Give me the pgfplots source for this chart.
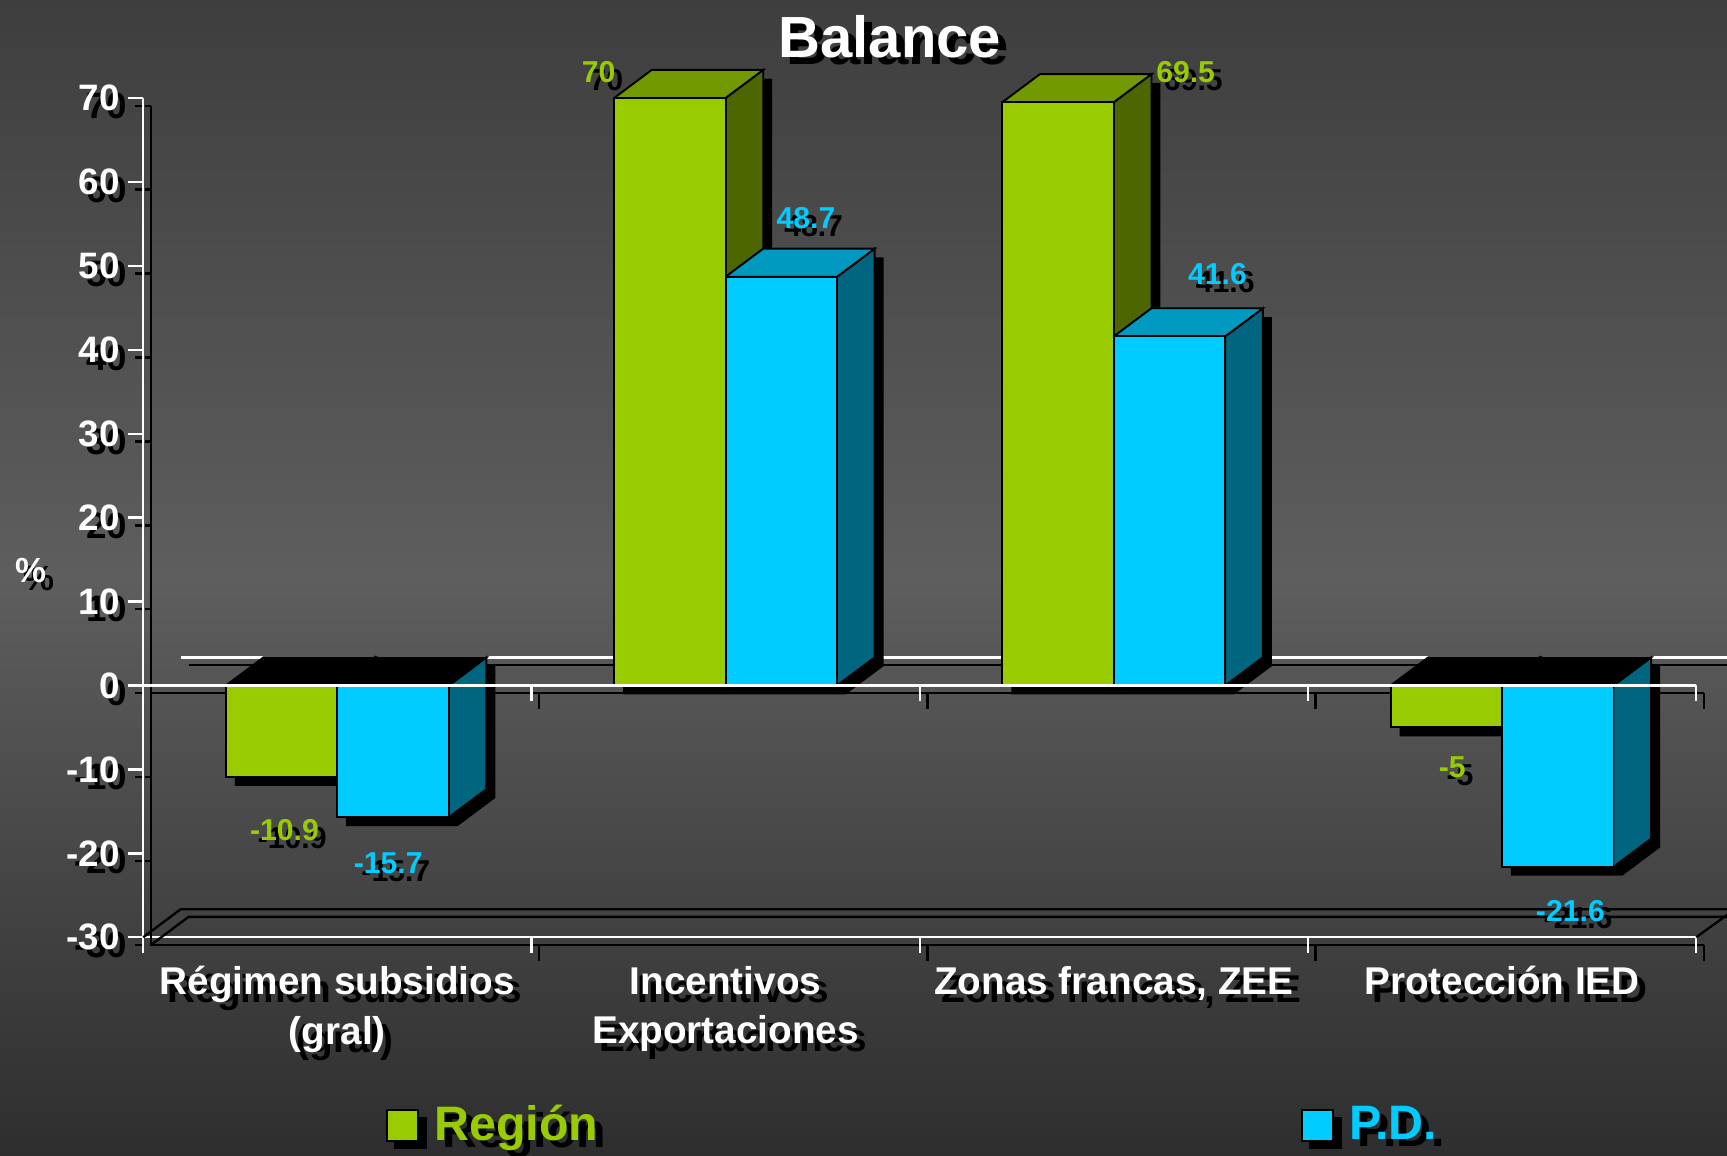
\documentclass[border=0pt]{standalone}
\usepackage{pgfplots}
\pgfplotsset{compat=1.18}
\usepackage{fontspec}
\setmainfont{Liberation Sans}
\definecolor{rgreen}{HTML}{99CC00}
\definecolor{rtop}{HTML}{739900}
\definecolor{rside}{HTML}{4D6600}
\definecolor{pcyan}{HTML}{00CCFF}
\definecolor{ptop}{HTML}{0099C0}
\definecolor{pside}{HTML}{006680}
\definecolor{bgtop}{HTML}{3E3E3E}
\definecolor{bgmid}{HTML}{5E5E5E}
\definecolor{bgbot}{HTML}{2E2E2E}
\newcommand{\sh}[2][white]{\rlap{\kern0.07cm\raisebox{-0.07cm}[0pt][0pt]{\color{black}#2}}{\color{#1}#2}}
\begin{document}
\begin{tikzpicture}
\useasboundingbox (0,0) rectangle (15.68,10.49);
\shade[top color=bgtop, bottom color=bgbot, middle color=bgmid] (0,0) rectangle (15.68,10.49);
\begin{axis}[
  at={(1.30cm,1.98cm)}, anchor=south west,
  scale only axis, width=14.10cm, height=7.62cm,
  xmin=-0.5, xmax=3.5, ymin=-30, ymax=70,
  clip=false,
  axis x line*=bottom, axis y line*=left,
  axis line style={-, white, line width=0.6pt},
  tick style={white, line width=0.6pt},
  tick align=outside, major tick length=0.14cm,
  xtick={-0.5,0.5,1.5,2.5,3.5}, xticklabels={},
  extra x ticks={0,1,2,3},
  extra x tick labels={{\sh{Régimen subsidios}\\\sh{(gral)}},{\sh{Incentivos}\\\sh{Exportaciones}},{\sh{Zonas francas, ZEE}},{\sh{Protección IED}}},
  extra x tick style={major tick length=0pt},
  xticklabel style={align=center, font=\fontsize{10}{12.8}\selectfont\bfseries, yshift=-0.14cm},
  ytick={-30,-20,...,70},
  yticklabel={\sh{\pgfmathprintnumber{\tick}}},
  yticklabel style={font=\fontsize{9.5}{11}\selectfont\bfseries, xshift=0.05cm},
  /pgf/number format/assume math mode=true,
  legend columns=2,
  legend style={at={(0.156,-0.224)}, anchor=west, draw=none, fill=none, inner sep=0pt,
    font=\fontsize{12.5}{15}\selectfont\bfseries,
    /tikz/every even column/.append style={column sep=6.31cm}},
  legend cell align=left,
]
% shadows of the axis lines and ticks
\draw[black, line width=0.6pt] ([xshift=0.07cm,yshift=-0.07cm]axis cs:-0.5,70) -- ([xshift=0.07cm,yshift=-0.07cm]axis cs:-0.5,-30) -- ([xshift=0.07cm,yshift=-0.07cm]axis cs:3.5,-30);
\draw[black, line width=0.6pt]
  ([xshift=-0.07cm,yshift=-0.07cm]axis cs:-0.5,70) -- ([xshift=-0.012cm,yshift=-0.07cm]axis cs:-0.5,70)
  ([xshift=0.012cm,yshift=-0.07cm]axis cs:-0.5,70) -- ([xshift=0.07cm,yshift=-0.07cm]axis cs:-0.5,70)
  ([xshift=-0.07cm,yshift=-0.07cm]axis cs:-0.5,60) -- ([xshift=-0.012cm,yshift=-0.07cm]axis cs:-0.5,60)
  ([xshift=0.012cm,yshift=-0.07cm]axis cs:-0.5,60) -- ([xshift=0.07cm,yshift=-0.07cm]axis cs:-0.5,60)
  ([xshift=-0.07cm,yshift=-0.07cm]axis cs:-0.5,50) -- ([xshift=-0.012cm,yshift=-0.07cm]axis cs:-0.5,50)
  ([xshift=0.012cm,yshift=-0.07cm]axis cs:-0.5,50) -- ([xshift=0.07cm,yshift=-0.07cm]axis cs:-0.5,50)
  ([xshift=-0.07cm,yshift=-0.07cm]axis cs:-0.5,40) -- ([xshift=-0.012cm,yshift=-0.07cm]axis cs:-0.5,40)
  ([xshift=0.012cm,yshift=-0.07cm]axis cs:-0.5,40) -- ([xshift=0.07cm,yshift=-0.07cm]axis cs:-0.5,40)
  ([xshift=-0.07cm,yshift=-0.07cm]axis cs:-0.5,30) -- ([xshift=-0.012cm,yshift=-0.07cm]axis cs:-0.5,30)
  ([xshift=0.012cm,yshift=-0.07cm]axis cs:-0.5,30) -- ([xshift=0.07cm,yshift=-0.07cm]axis cs:-0.5,30)
  ([xshift=-0.07cm,yshift=-0.07cm]axis cs:-0.5,20) -- ([xshift=-0.012cm,yshift=-0.07cm]axis cs:-0.5,20)
  ([xshift=0.012cm,yshift=-0.07cm]axis cs:-0.5,20) -- ([xshift=0.07cm,yshift=-0.07cm]axis cs:-0.5,20)
  ([xshift=-0.07cm,yshift=-0.07cm]axis cs:-0.5,10) -- ([xshift=-0.012cm,yshift=-0.07cm]axis cs:-0.5,10)
  ([xshift=0.012cm,yshift=-0.07cm]axis cs:-0.5,10) -- ([xshift=0.07cm,yshift=-0.07cm]axis cs:-0.5,10)
  ([xshift=-0.07cm,yshift=-0.07cm]axis cs:-0.5,0) -- ([xshift=-0.012cm,yshift=-0.07cm]axis cs:-0.5,0)
  ([xshift=-0.07cm,yshift=-0.07cm]axis cs:-0.5,-10) -- ([xshift=-0.012cm,yshift=-0.07cm]axis cs:-0.5,-10)
  ([xshift=0.012cm,yshift=-0.07cm]axis cs:-0.5,-10) -- ([xshift=0.07cm,yshift=-0.07cm]axis cs:-0.5,-10)
  ([xshift=-0.07cm,yshift=-0.07cm]axis cs:-0.5,-20) -- ([xshift=-0.012cm,yshift=-0.07cm]axis cs:-0.5,-20)
  ([xshift=0.012cm,yshift=-0.07cm]axis cs:-0.5,-20) -- ([xshift=0.07cm,yshift=-0.07cm]axis cs:-0.5,-20)
  ([xshift=-0.07cm,yshift=-0.07cm]axis cs:-0.5,-30) -- ([xshift=-0.012cm,yshift=-0.07cm]axis cs:-0.5,-30)
  ([xshift=0.07cm,yshift=-0.07cm]axis cs:0.5,-30) -- ([xshift=0.07cm,yshift=-0.215cm]axis cs:0.5,-30)
  ([xshift=0.07cm,yshift=-0.07cm]axis cs:1.5,-30) -- ([xshift=0.07cm,yshift=-0.215cm]axis cs:1.5,-30)
  ([xshift=0.07cm,yshift=-0.07cm]axis cs:2.5,-30) -- ([xshift=0.07cm,yshift=-0.215cm]axis cs:2.5,-30)
  ([xshift=0.07cm,yshift=-0.07cm]axis cs:3.5,-30) -- ([xshift=0.07cm,yshift=-0.215cm]axis cs:3.5,-30);
\draw[white, line width=0.6pt]
  (axis cs:0.5,-30) -- ([yshift=-0.14cm]axis cs:0.5,-30)
  (axis cs:1.5,-30) -- ([yshift=-0.14cm]axis cs:1.5,-30)
  (axis cs:2.5,-30) -- ([yshift=-0.14cm]axis cs:2.5,-30)
  (axis cs:3.5,-30) -- ([yshift=-0.14cm]axis cs:3.5,-30);
% floor back edge and its shadow
\draw[black, line width=0.6pt] (axis cs:-0.5,-30) -- (axis cs:-0.403,-26.65) -- (axis cs:3.6,-26.65) -- (axis cs:3.5,-30);
\draw[black, line width=0.6pt] ([xshift=0.07cm,yshift=-0.07cm]axis cs:-0.5,-30) -- ([xshift=0.07cm,yshift=-0.07cm]axis cs:-0.403,-26.65) -- ([xshift=0.07cm,yshift=-0.07cm]axis cs:3.6,-26.65);
% back zero line
\draw[black, line width=0.6pt] ([xshift=0.07cm,yshift=-0.07cm]axis cs:-0.403,3.35) -- ([xshift=0.07cm,yshift=-0.07cm]axis cs:3.6,3.35);
\draw[white, line width=0.6pt] (axis cs:-0.403,3.35) -- (axis cs:3.6,3.35);
% front zero line shadow
\draw[black, line width=0.6pt] ([xshift=0.07cm,yshift=-0.07cm]axis cs:-0.5,0) -- ([xshift=0.07cm,yshift=-0.07cm]axis cs:3.5,0)
  ([xshift=0.07cm,yshift=-0.07cm]axis cs:0.5,0) -- ([xshift=0.07cm,yshift=-0.215cm]axis cs:0.5,0)
  ([xshift=0.07cm,yshift=-0.07cm]axis cs:1.5,0) -- ([xshift=0.07cm,yshift=-0.215cm]axis cs:1.5,0)
  ([xshift=0.07cm,yshift=-0.07cm]axis cs:2.5,0) -- ([xshift=0.07cm,yshift=-0.215cm]axis cs:2.5,0)
  ([xshift=0.07cm,yshift=-0.07cm]axis cs:3.5,0) -- ([xshift=0.07cm,yshift=-0.215cm]axis cs:3.5,0);
% bar shadows
\addplot[fill=black, draw=none, forget plot] coordinates {(-0.264,-11.95) (-0.264,-1.05) (-0.167,2.3) (0.12,2.3) (0.12,-8.6) (0.023,-11.95) (-0.264,-11.95)};
\addplot[fill=black, draw=none, forget plot] coordinates {(0.023,-16.75) (0.023,-1.05) (0.12,2.3) (0.407,2.3) (0.407,-13.4) (0.31,-16.75) (0.023,-16.75)};
\addplot[fill=black, draw=none, forget plot] coordinates {(0.736,-1.05) (0.736,68.95) (0.833,72.3) (1.12,72.3) (1.12,2.3) (1.023,-1.05) (0.736,-1.05)};
\addplot[fill=black, draw=none, forget plot] coordinates {(1.023,-1.05) (1.023,47.65) (1.12,51.0) (1.407,51.0) (1.407,2.3) (1.31,-1.05) (1.023,-1.05)};
\addplot[fill=black, draw=none, forget plot] coordinates {(1.736,-1.05) (1.736,68.45) (1.833,71.8) (2.12,71.8) (2.12,2.3) (2.023,-1.05) (1.736,-1.05)};
\addplot[fill=black, draw=none, forget plot] coordinates {(2.023,-1.05) (2.023,40.55) (2.12,43.9) (2.407,43.9) (2.407,2.3) (2.31,-1.05) (2.023,-1.05)};
\addplot[fill=black, draw=none, forget plot] coordinates {(2.736,-6.05) (2.736,-1.05) (2.833,2.3) (3.12,2.3) (3.12,-2.7) (3.023,-6.05) (2.736,-6.05)};
\addplot[fill=black, draw=none, forget plot] coordinates {(3.023,-22.65) (3.023,-1.05) (3.12,2.3) (3.407,2.3) (3.407,-19.3) (3.31,-22.65) (3.023,-22.65)};
% Region: sides and tops
\addplot[fill=rside, draw=black, line width=0.5pt, forget plot] coordinates {(0,0) (0.097,3.35) (0.097,-7.55) (0,-10.9) (0,0)};
\addplot[fill=black, draw=black, line width=0.5pt, forget plot] coordinates {(-0.287,0) (-0.19,3.35) (0.097,3.35) (0,0) (-0.287,0)};
\addplot[fill=rside, draw=black, line width=0.5pt, forget plot] coordinates {(1,0) (1,70) (1.097,73.35) (1.097,3.35) (1,0)};
\addplot[fill=rtop, draw=black, line width=0.5pt, forget plot] coordinates {(0.713,70) (0.81,73.35) (1.097,73.35) (1,70) (0.713,70)};
\addplot[fill=rside, draw=black, line width=0.5pt, forget plot] coordinates {(2,0) (2,69.5) (2.097,72.85) (2.097,3.35) (2,0)};
\addplot[fill=rtop, draw=black, line width=0.5pt, forget plot] coordinates {(1.713,69.5) (1.81,72.85) (2.097,72.85) (2,69.5) (1.713,69.5)};
\addplot[fill=rside, draw=black, line width=0.5pt, forget plot] coordinates {(3,0) (3.097,3.35) (3.097,-1.65) (3,-5) (3,0)};
\addplot[fill=black, draw=black, line width=0.5pt, forget plot] coordinates {(2.713,0) (2.81,3.35) (3.097,3.35) (3,0) (2.713,0)};
% Region fronts
\addplot[ybar, bar width=0.287, bar shift=-0.1435, fill=rgreen, draw=black, line width=0.5pt,
  legend image code/.code={\fill[black] (0.07cm,-0.21cm) rectangle (0.35cm,0.07cm); \filldraw[fill=rgreen, draw=black, line width=0.5pt] (0cm,-0.14cm) rectangle (0.28cm,0.14cm);}]
  coordinates {(0,-10.9) (1,70) (2,69.5) (3,-5)};
\addlegendentry{\sh[rgreen]{Región}}
% P.D.: sides and tops
\addplot[fill=pside, draw=black, line width=0.5pt, forget plot] coordinates {(0.287,0) (0.384,3.35) (0.384,-12.35) (0.287,-15.7) (0.287,0)};
\addplot[fill=black, draw=black, line width=0.5pt, forget plot] coordinates {(0,0) (0.097,3.35) (0.384,3.35) (0.287,0) (0,0)};
\addplot[fill=pside, draw=black, line width=0.5pt, forget plot] coordinates {(1.287,0) (1.287,48.7) (1.384,52.05) (1.384,3.35) (1.287,0)};
\addplot[fill=ptop, draw=black, line width=0.5pt, forget plot] coordinates {(1,48.7) (1.097,52.05) (1.384,52.05) (1.287,48.7) (1,48.7)};
\addplot[fill=pside, draw=black, line width=0.5pt, forget plot] coordinates {(2.287,0) (2.287,41.6) (2.384,44.95) (2.384,3.35) (2.287,0)};
\addplot[fill=ptop, draw=black, line width=0.5pt, forget plot] coordinates {(2,41.6) (2.097,44.95) (2.384,44.95) (2.287,41.6) (2,41.6)};
\addplot[fill=pside, draw=black, line width=0.5pt, forget plot] coordinates {(3.287,0) (3.384,3.35) (3.384,-18.25) (3.287,-21.6) (3.287,0)};
\addplot[fill=black, draw=black, line width=0.5pt, forget plot] coordinates {(3,0) (3.097,3.35) (3.384,3.35) (3.287,0) (3,0)};
% P.D. fronts
\addplot[ybar, bar width=0.287, bar shift=0.1435, fill=pcyan, draw=black, line width=0.5pt,
  legend image code/.code={\fill[black] (0.07cm,-0.21cm) rectangle (0.35cm,0.07cm); \filldraw[fill=pcyan, draw=black, line width=0.5pt] (0cm,-0.14cm) rectangle (0.28cm,0.14cm);}]
  coordinates {(0,-15.7) (1,48.7) (2,41.6) (3,-21.6)};
\addlegendentry{\sh[pcyan]{P.D.}}
% front zero line
\draw[white, line width=0.6pt] (axis cs:-0.5,0) -- (axis cs:3.5,0)
  (axis cs:0.5,0) -- ([yshift=-0.145cm]axis cs:0.5,0)
  (axis cs:1.5,0) -- ([yshift=-0.145cm]axis cs:1.5,0)
  (axis cs:2.5,0) -- ([yshift=-0.145cm]axis cs:2.5,0)
  (axis cs:3.5,0) -- ([yshift=-0.145cm]axis cs:3.5,0);
% value labels
\addplot[draw=none, forget plot, point meta=explicit symbolic,
  nodes near coords={\sh[rgreen]{\pgfplotspointmeta}},
  every node near coord/.append style={anchor=center, inner sep=0pt, font=\fontsize{7.8}{9}\selectfont\bfseries}]
  coordinates {(-0.136,-17.27) [-10.9] (0.673,73.1) [70] (2.185,73.1) [69.5] (2.872,-9.8) [-5]};
\addplot[draw=none, forget plot, point meta=explicit symbolic,
  nodes near coords={\sh[pcyan]{\pgfplotspointmeta}},
  every node near coord/.append style={anchor=center, inner sep=0pt, font=\fontsize{7.8}{9}\selectfont\bfseries}]
  coordinates {(0.131,-21.2) [-15.7] (1.207,55.7) [48.7] (2.267,49.0) [41.6] (3.176,-26.85) [-21.6]};
\end{axis}
\node[font=\fontsize{15}{18}\selectfont\bfseries] at (8.08,10.16) {\sh{Balance}};
\node[font=\fontsize{9}{11}\selectfont\bfseries] at (0.28,5.31) {\sh{\%}};
\end{tikzpicture}
\end{document}
